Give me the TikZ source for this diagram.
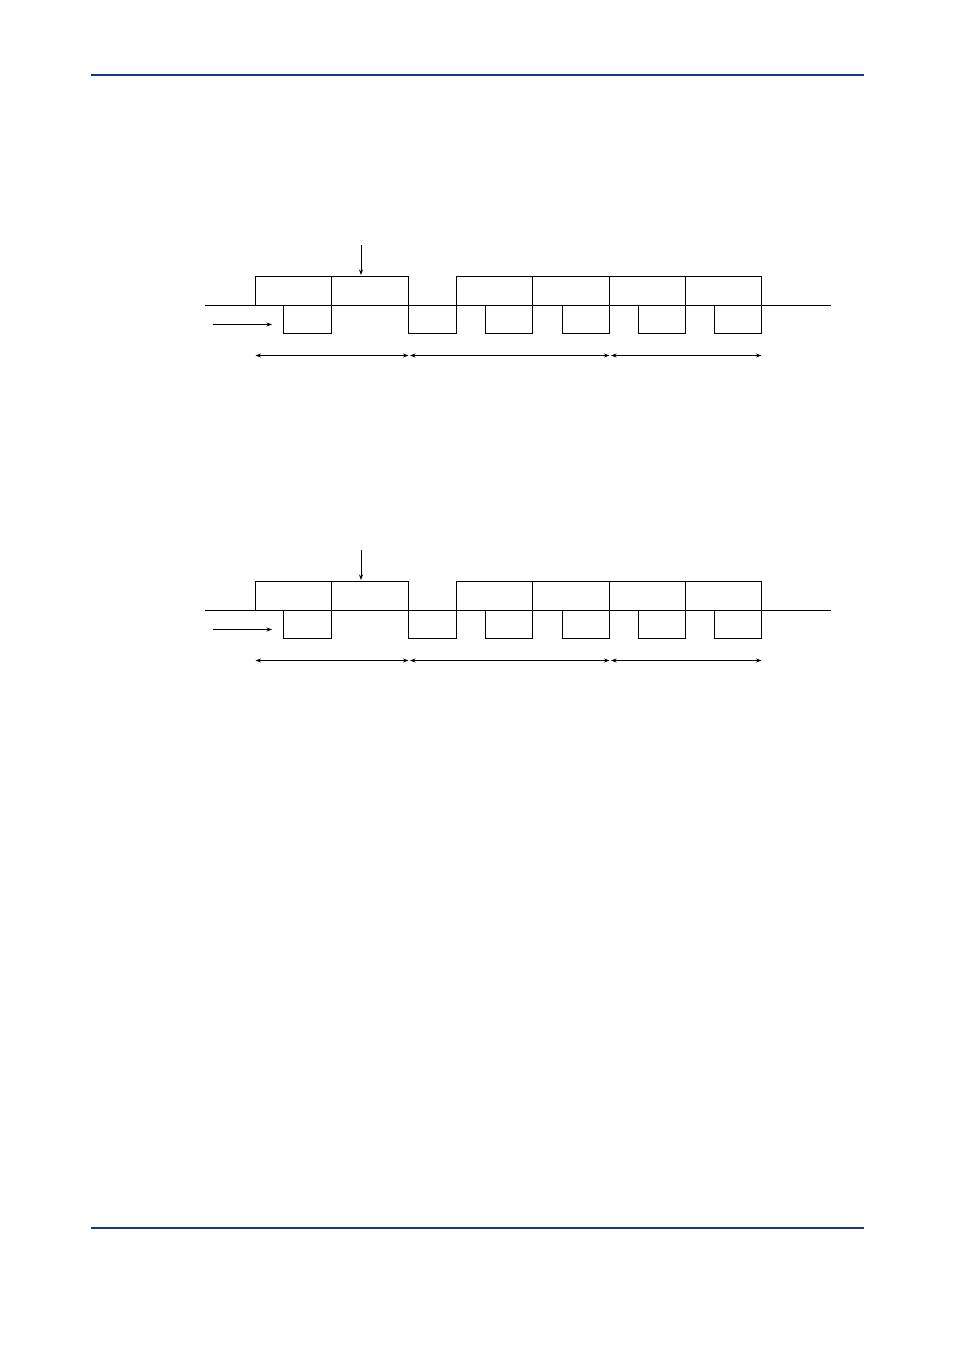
\documentclass[tikz,border=0pt]{standalone}
\usetikzlibrary{arrows.meta}
\definecolor{rulecol}{HTML}{173591}
\tikzset{
  sig/.style={line width=0.9pt, line join=miter},
  pointer/.style={line width=0.8pt, -{Stealth[length=5.5pt,width=4pt]}},
  span/.style={line width=0.8pt, {Stealth[length=5.5pt,width=4pt]}-{Stealth[length=5.5pt,width=4pt]}},
  headrule/.style={rulecol, line width=2.7pt}
}
\begin{document}
\begin{tikzpicture}[x=1pt,y=-1pt]
\useasboundingbox (0,0) rectangle (954,1351);
\coordinate (hl) at (91,75); \coordinate (hr) at (864,75);
\coordinate (fl) at (91,1228); \coordinate (fr) at (864,1228);
\draw[headrule] (hl) -- (hr);
\draw[headrule] (fl) -- (fr);
\foreach \dy/\nm in {0/a,305/b}{
\begin{scope}[shift={(0,\dy)}]
  % baseline
  \coordinate (\nm-b0) at (205,305); \coordinate (\nm-b1) at (831,305);
  \draw[sig] (\nm-b0) -- (\nm-b1);
  % upper frames
  \draw[sig] (255.5,305) rectangle (331.5,276);
  \draw[sig] (331.5,305) rectangle (408.5,276);
  \draw[sig] (456.5,305) rectangle (532.5,276);
  \draw[sig] (532.5,305) rectangle (609,276);
  \draw[sig] (609,305) rectangle (685.5,276);
  \draw[sig] (685.5,305) rectangle (761.5,276);
  % lower frames
  \draw[sig] (283.5,305) rectangle (331.5,333.5);
  \draw[sig] (408.5,305) rectangle (456.5,333);
  \draw[sig] (485.5,305) rectangle (532.5,333);
  \draw[sig] (562.5,305) rectangle (609,333);
  \draw[sig] (638.5,305) rectangle (685.5,333);
  \draw[sig] (714,305) rectangle (761.5,333);
  % pointers
  \coordinate (\nm-d0) at (361,245); \coordinate (\nm-d1) at (361,275);
  \draw[pointer] (\nm-d0) -- (\nm-d1);
  \coordinate (\nm-r0) at (212.5,324.5); \coordinate (\nm-r1) at (272,324.5);
  \draw[pointer] (\nm-r0) -- (\nm-r1);
  % spans
  \coordinate (\nm-s0) at (255.5,355.5); \coordinate (\nm-s1) at (408.5,355.5);
  \coordinate (\nm-s2) at (410,355.5); \coordinate (\nm-s3) at (609.5,355.5);
  \coordinate (\nm-s4) at (611,355.5); \coordinate (\nm-s5) at (761.5,355.5);
  \draw[span] (\nm-s0) -- (\nm-s1);
  \draw[span] (\nm-s2) -- (\nm-s3);
  \draw[span] (\nm-s4) -- (\nm-s5);
\end{scope}
}
\end{tikzpicture}
\end{document}
